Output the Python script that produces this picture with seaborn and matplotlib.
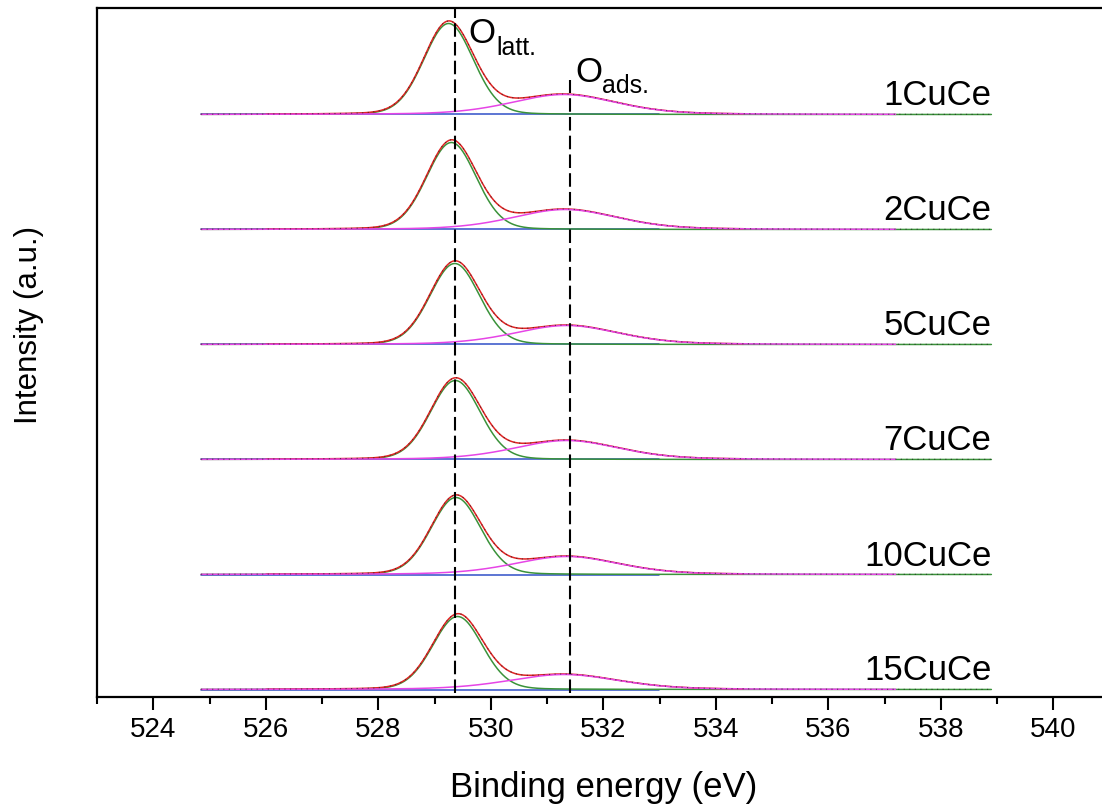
import numpy as np
import pandas as pd
import matplotlib
matplotlib.use("Agg")
import matplotlib.pyplot as plt
from matplotlib.ticker import MultipleLocator
import seaborn as sns

# O 1s peak-fit parameters for each CuCe sample (top to bottom)
samples = ["1CuCe", "2CuCe", "5CuCe", "7CuCe", "10CuCe", "15CuCe"]
latt_center = [529.25, 529.30, 529.36, 529.37, 529.38, 529.41]   # eV
latt_height = [91, 87, 81, 79, 77, 73]                          # a.u.
latt_fwhm = [1.04, 1.04, 1.04, 1.04, 1.04, 1.04]                # eV
latt_lorentz = 0.1                                              # L/G mixing of the O_latt peak
ads_center = [531.30, 531.32, 531.35, 531.35, 531.35, 531.30]   # eV
ads_height = [20, 20, 19, 19, 18, 15]                           # a.u.
ads_fwhm = [2.2, 2.2, 2.2, 2.2, 2.2, 2.3]                       # eV
ads_lorentz = 0.3                                               # L/G mixing of the O_ads peak
scan_range = (524.85, 538.9)                                    # measured window, eV
latt_ref = 529.36                                               # O_latt reference energy
ads_ref = 531.41                                                # O_ads reference energy

# vertical stacking of the spectra
stack_base = 7.5
stack_step = 115.0

# fit windows of each drawn component
bg_window = (524.85, 533.0)
env_window = (526.0, 534.5)
ads_window = (524.85, 537.2)


def pseudo_voigt(x, c, h, w, eta):
    g = np.exp(-4.0 * np.log(2.0) * ((x - c) / w) ** 2)
    lor = 1.0 / (1.0 + 4.0 * ((x - c) / w) ** 2)
    return h * ((1.0 - eta) * g + eta * lor)


energy = np.linspace(scan_range[0], scan_range[1], 900)
rows = []
n = len(samples)
for i, name in enumerate(samples):
    off = stack_base + stack_step * (n - 1 - i)
    latt = pseudo_voigt(energy, latt_center[i], latt_height[i], latt_fwhm[i], latt_lorentz)
    ads = pseudo_voigt(energy, ads_center[i], ads_height[i], ads_fwhm[i], ads_lorentz)
    bg = np.zeros_like(energy)
    env = bg + latt + ads
    comps = {
        "Raw": (env, scan_range),
        "Background": (bg, bg_window),
        "O latt": (latt, scan_range),
        "Envelope": (env, env_window),
        "O ads": (ads, ads_window),
    }
    for comp, (vals, (lo, hi)) in comps.items():
        m = (energy >= lo) & (energy <= hi)
        rows.append(pd.DataFrame({"energy": energy[m], "intensity": vals[m] + off,
                                  "sample": name, "component": comp}))
df = pd.concat(rows, ignore_index=True)

sns.set_theme(style="white")
plt.rcParams["font.family"] = ["Liberation Sans", "DejaVu Sans"]
plt.rcParams["text.color"] = "black"
plt.rcParams["axes.labelcolor"] = "black"
plt.rcParams["xtick.color"] = "black"

fig = plt.figure(figsize=(11.02, 8.07), dpi=100)
ax = fig.add_axes([97 / 1102, 110 / 807, 1012.5 / 1102, 689 / 807])

styles = {
    "Background": dict(color="#3050c8", lw=1.1),
    "O latt": dict(color="#3a923a", lw=1.1),
    "Envelope": dict(color="#e02424", lw=1.1),
    "O ads": dict(color="#e645e6", lw=1.1),
}
for comp, st in styles.items():
    sns.lineplot(data=df[df["component"] == comp], x="energy", y="intensity",
                 units="sample", estimator=None, color=st["color"], lw=st["lw"],
                 ax=ax, legend=False)
# measured points, shown as a sparse dotted trace
sns.lineplot(data=df[df["component"] == "Raw"], x="energy", y="intensity",
             units="sample", estimator=None, color="#202020", lw=0.8,
             linestyle=(0, (1, 4)), alpha=0.7, ax=ax, legend=False)

# reference lines for lattice and adsorbed oxygen
ax.plot([latt_ref, latt_ref], [4, 689], color="black", lw=1.5, dashes=(6.5, 2.5))
ax.plot([ads_ref, ads_ref], [4, 617], color="black", lw=1.5, dashes=(6.5, 2.5))

ax.text(529.6, 654, "O", fontsize=25, ha="left", va="baseline")
ax.text(530.10, 642, "latt.", fontsize=18, ha="left", va="baseline")
ax.text(531.5, 615, "O", fontsize=25, ha="left", va="baseline")
ax.text(531.98, 604, "ads.", fontsize=18, ha="left", va="baseline")

for i, name in enumerate(samples):
    off = stack_base + stack_step * (n - 1 - i)
    ax.text(scan_range[1], off + 9, name, fontsize=25, ha="right", va="baseline")

ax.set_xlim(523, 541)
ax.set_ylim(0, 689)
ax.xaxis.set_major_locator(MultipleLocator(2))
ax.xaxis.set_minor_locator(MultipleLocator(1))
ax.set_yticks([])
ax.tick_params(axis="x", which="major", direction="out", length=9.5, width=1.5,
               labelsize=20, pad=5, bottom=True, top=False, colors="black")
ax.tick_params(axis="x", which="minor", direction="out", length=5, width=1.5,
               bottom=True, top=False, colors="black")
for side in ["left", "bottom", "top"]:
    ax.spines[side].set_linewidth(1.6)
    ax.spines[side].set_color("black")
ax.spines["right"].set_visible(False)

ax.set_xlabel("Binding energy (eV)", fontsize=25)
ax.set_ylabel("Intensity (a.u.)", fontsize=22.5)
ax.xaxis.set_label_coords(0.5, -0.108)
ax.yaxis.set_label_coords(-0.052, 0.54)
ax.xaxis.label.set_va("top")

fig.savefig("out.png", dpi=100)
